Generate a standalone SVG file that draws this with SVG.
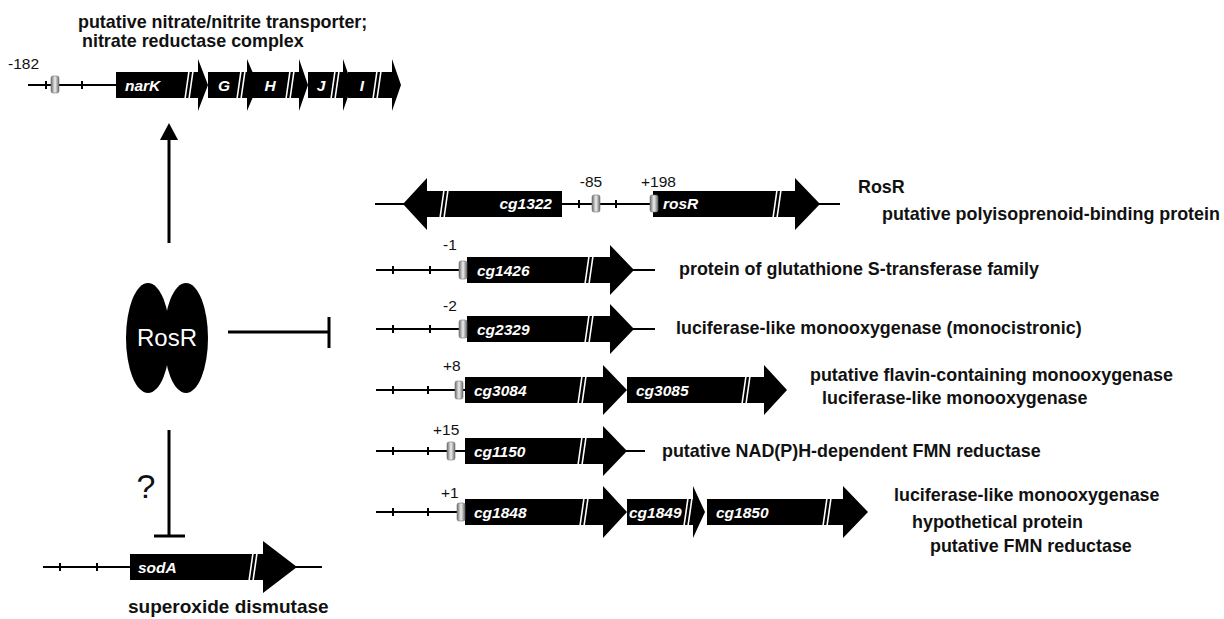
<svg xmlns="http://www.w3.org/2000/svg" width="1224" height="619" viewBox="0 0 1224 619">
<defs>
<linearGradient id="gb" x1="0" y1="0" x2="1" y2="0">
<stop offset="0" stop-color="#6a6a6a"/><stop offset="0.5" stop-color="#f0f0f0"/><stop offset="1" stop-color="#6a6a6a"/>
</linearGradient>
<style>
.ln{stroke:#000;stroke-width:2;fill:none}
.tk{stroke:#000;stroke-width:2}
.g{fill:#000}
.sl{stroke:#fff;stroke-width:1.6}
.bx{fill:url(#gb);stroke:#777;stroke-width:0.6}
.gl{font-family:"Liberation Sans",Arial,sans-serif;font-weight:bold;font-style:italic;font-size:15.5px;fill:#fff}
.lb{font-family:"Liberation Sans",Arial,sans-serif;font-weight:bold;font-size:17.9px;fill:#111}
.num{font-family:"Liberation Sans",Arial,sans-serif;font-size:15.5px;fill:#111}
.cn{stroke:#000;stroke-width:3;fill:none}
</style>
</defs>
<rect width="1224" height="619" fill="#fff"/>

<g id="narK-operon">
<text class="lb" x="78" y="28">putative nitrate/nitrite transporter;</text>
<text class="lb" x="82" y="47">nitrate reductase complex</text>
<text class="num" x="8" y="69">-182</text>
<line class="ln" x1="28" y1="85" x2="118" y2="85"/>
<line class="tk" x1="46" y1="81" x2="46" y2="89"/>
<line class="tk" x1="82" y1="81" x2="82" y2="89"/>
<rect class="bx" x="51" y="76" width="8" height="17" rx="2"/>
<polygon class="g" points="116,72 198,72 198,59 208,85 198,111 198,98 116,98"/>
<polygon class="g" points="208,72 247,72 247,59 258,85 247,111 247,98 208,98"/>
<polygon class="g" points="252,72 299,72 299,59 308,85 299,111 299,98 252,98"/>
<polygon class="g" points="308,72 343,72 343,59 352,85 343,111 343,98 308,98"/>
<polygon class="g" points="348,72 392,72 392,59 401,85 392,111 392,98 348,98"/>
<line class="sl" x1="185" y1="99" x2="189" y2="71"/><line class="sl" x1="189" y1="99" x2="193" y2="71"/>
<line class="sl" x1="237" y1="99" x2="241" y2="71"/><line class="sl" x1="241" y1="99" x2="245" y2="71"/>
<line class="sl" x1="286" y1="99" x2="290" y2="71"/><line class="sl" x1="290" y1="99" x2="294" y2="71"/>
<line class="sl" x1="331" y1="99" x2="335" y2="71"/><line class="sl" x1="335" y1="99" x2="339" y2="71"/>
<line class="sl" x1="373" y1="99" x2="377" y2="71"/><line class="sl" x1="377" y1="99" x2="381" y2="71"/>
<text class="gl" x="125" y="91">narK</text>
<text class="gl" x="224" y="91" text-anchor="middle">G</text>
<text class="gl" x="270" y="91" text-anchor="middle">H</text>
<text class="gl" x="321" y="91" text-anchor="middle">J</text>
<text class="gl" x="362" y="91" text-anchor="middle">I</text>
</g>

<g id="rosR-dimer">
<ellipse class="g" cx="148" cy="338" rx="22" ry="55"/>
<ellipse class="g" cx="186" cy="338" rx="22" ry="55"/>
<text x="167" y="346" text-anchor="middle" font-family="Liberation Sans, Arial, sans-serif" font-size="24" fill="#fff">RosR</text>
</g>

<g id="row-rosR">
<line class="ln" x1="375" y1="204" x2="840" y2="204"/>
<polygon class="g" points="562,191 427,191 427,178 403,204 427,230 427,217 562,217"/>
<line class="sl" x1="440" y1="218" x2="444" y2="190"/><line class="sl" x1="444" y1="218" x2="448" y2="190"/>
<text class="gl" x="552" y="209" text-anchor="end">cg1322</text>
<line class="tk" x1="579" y1="200" x2="579" y2="208"/>
<line class="tk" x1="616" y1="200" x2="616" y2="208"/>
<rect class="bx" x="592" y="195" width="8" height="17" rx="2"/>
<text class="num" x="591" y="187" text-anchor="middle">-85</text>
<text class="num" x="641" y="187">+198</text>
<polygon class="g" points="653,191 795,191 795,178 820,204 795,230 795,217 653,217"/>
<line class="sl" x1="773" y1="218" x2="777" y2="190"/><line class="sl" x1="777" y1="218" x2="781" y2="190"/>
<rect class="bx" x="650" y="195" width="8" height="17" rx="2"/>
<text class="gl" x="663" y="209">rosR</text>
<text class="lb" x="858" y="193">RosR</text>
<text class="lb" x="882" y="220">putative polyisoprenoid-binding protein</text>
</g>

<g id="row-cg1426">
<line class="ln" x1="376" y1="270" x2="655" y2="270"/>
<line class="tk" x1="393" y1="266" x2="393" y2="274"/>
<line class="tk" x1="430" y1="266" x2="430" y2="274"/>
<text class="num" x="443" y="250">-1</text>
<polygon class="g" points="467,257 610,257 610,245 634,270 610,295 610,283 467,283"/>
<line class="sl" x1="585" y1="284" x2="589" y2="256"/><line class="sl" x1="589" y1="284" x2="593" y2="256"/>
<rect class="bx" x="459" y="261" width="8" height="18" rx="2"/>
<text class="gl" x="477" y="276">cg1426</text>
<text class="lb" x="679" y="275">protein of glutathione S-transferase family</text>
</g>

<g id="row-cg2329">
<line class="ln" x1="376" y1="329" x2="655" y2="329"/>
<line class="tk" x1="393" y1="325" x2="393" y2="333"/>
<line class="tk" x1="430" y1="325" x2="430" y2="333"/>
<text class="num" x="443" y="311">-2</text>
<polygon class="g" points="467,316 610,316 610,304 634,329 610,354 610,342 467,342"/>
<line class="sl" x1="585" y1="343" x2="589" y2="315"/><line class="sl" x1="589" y1="343" x2="593" y2="315"/>
<rect class="bx" x="459" y="320" width="8" height="18" rx="2"/>
<text class="gl" x="477" y="335">cg2329</text>
<text class="lb" x="676" y="334">luciferase-like monooxygenase (monocistronic)</text>
</g>

<g id="row-cg3084">
<line class="ln" x1="376" y1="390" x2="466" y2="390"/>
<line class="tk" x1="393" y1="386" x2="393" y2="394"/>
<line class="tk" x1="428" y1="386" x2="428" y2="394"/>
<text class="num" x="443" y="371">+8</text>
<polygon class="g" points="465,377 603,377 603,365 627,390 603,415 603,403 465,403"/>
<polygon class="g" points="627,377 764,377 764,365 787,390 764,415 764,403 627,403"/>
<line class="sl" x1="578" y1="404" x2="582" y2="376"/><line class="sl" x1="582" y1="404" x2="586" y2="376"/>
<line class="sl" x1="742" y1="404" x2="746" y2="376"/><line class="sl" x1="746" y1="404" x2="750" y2="376"/>
<rect class="bx" x="455" y="381" width="8" height="18" rx="2"/>
<text class="gl" x="474" y="396">cg3084</text>
<text class="gl" x="636" y="396">cg3085</text>
<text class="lb" x="810" y="381">putative flavin-containing monooxygenase</text>
<text class="lb" x="822" y="404">luciferase-like monooxygenase</text>
</g>

<g id="row-cg1150">
<line class="ln" x1="376" y1="451" x2="645" y2="451"/>
<line class="tk" x1="393" y1="447" x2="393" y2="455"/>
<line class="tk" x1="428" y1="447" x2="428" y2="455"/>
<text class="num" x="433" y="435">+15</text>
<polygon class="g" points="465,438 603,438 603,426 627,451 603,476 603,464 465,464"/>
<line class="sl" x1="578" y1="465" x2="582" y2="437"/><line class="sl" x1="582" y1="465" x2="586" y2="437"/>
<rect class="bx" x="447" y="442" width="8" height="18" rx="2"/>
<text class="gl" x="474" y="457">cg1150</text>
<text class="lb" x="662" y="457">putative NAD(P)H-dependent FMN reductase</text>
</g>

<g id="row-cg1848">
<line class="ln" x1="376" y1="512" x2="466" y2="512"/>
<line class="tk" x1="393" y1="508" x2="393" y2="516"/>
<line class="tk" x1="428" y1="508" x2="428" y2="516"/>
<text class="num" x="441" y="498">+1</text>
<polygon class="g" points="465,499 603,499 603,486 627,512 603,538 603,525 465,525"/>
<polygon class="g" points="627,499 693,499 693,486 705,512 693,538 693,525 627,525"/>
<polygon class="g" points="707,499 843,499 843,486 868,512 843,538 843,525 707,525"/>
<line class="sl" x1="580" y1="526" x2="584" y2="498"/><line class="sl" x1="584" y1="526" x2="588" y2="498"/>
<line class="sl" x1="684" y1="526" x2="688" y2="498"/><line class="sl" x1="688" y1="526" x2="692" y2="498"/>
<line class="sl" x1="823" y1="526" x2="827" y2="498"/><line class="sl" x1="827" y1="526" x2="831" y2="498"/>
<rect class="bx" x="457" y="503" width="8" height="18" rx="2"/>
<text class="gl" x="474" y="518">cg1848</text>
<text class="gl" x="629" y="518">cg1849</text>
<text class="gl" x="716" y="518">cg1850</text>
<text class="lb" x="894" y="501">luciferase-like monooxygenase</text>
<text class="lb" x="912" y="528">hypothetical protein</text>
<text class="lb" x="930" y="552">putative FMN reductase</text>
</g>

<g id="row-sodA">
<line class="ln" x1="43" y1="567" x2="322" y2="567"/>
<line class="tk" x1="60" y1="563" x2="60" y2="571"/>
<line class="tk" x1="97" y1="563" x2="97" y2="571"/>
<polygon class="g" points="130,554 263,554 263,541 297,567 263,593 263,580 130,580"/>
<line class="sl" x1="249" y1="581" x2="253" y2="553"/><line class="sl" x1="253" y1="581" x2="257" y2="553"/>
<text class="gl" x="138" y="573">sodA</text>
<text class="lb" x="128" y="613" style="font-size:19px">superoxide dismutase</text>
</g>

<g id="connectors">
<line class="cn" x1="169" y1="243" x2="169" y2="138"/>
<polygon class="g" points="160,140 178,140 169,123"/>
<line class="cn" x1="228" y1="332" x2="329" y2="332"/>
<line class="cn" x1="329" y1="317" x2="329" y2="348"/>
<line class="cn" x1="169" y1="430" x2="169" y2="536"/>
<line class="cn" x1="154" y1="536" x2="185" y2="536"/>
<text x="146" y="498" text-anchor="middle" font-family="Liberation Sans, Arial, sans-serif" font-size="34" fill="#111">?</text>
</g>
</svg>
